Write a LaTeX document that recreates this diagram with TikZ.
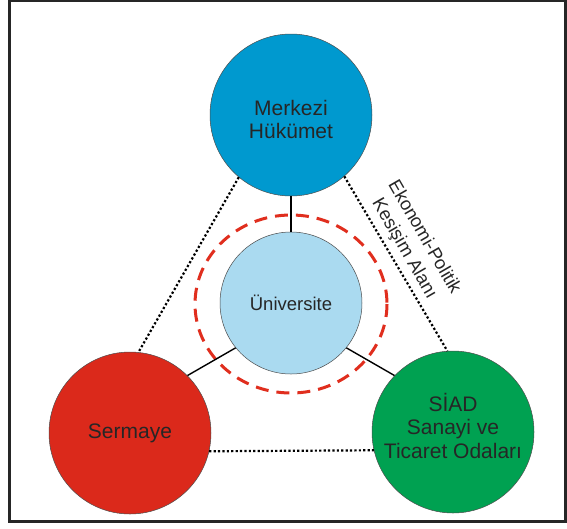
\documentclass[tikz,border=0pt]{standalone}
\usepackage{fontspec}
\setmainfont{Liberation Sans}
\definecolor{hukblue}{RGB}{0,153,207}
\definecolor{unilight}{RGB}{170,218,240}
\definecolor{serred}{RGB}{219,41,27}
\definecolor{siadgreen}{RGB}{0,161,81}
\definecolor{ringred}{RGB}{224,46,30}
\begin{document}
\begin{tikzpicture}[x=1pt,y=-1pt,
  actor/.style={draw=black!70, circle, line width=0.5pt, minimum size=162pt, inner sep=0pt,
    align=center, text=black!85, font=\fontsize{21}{23.5}\selectfont},
  tie/.style={line width=1.4pt},
  dotline/.style={line width=2.2pt, dash pattern=on 2.2pt off 2.2pt}]
  \useasboundingbox (0,0) rectangle (567,528);
  \draw[line width=2.5pt, black!85] (9.5,1) rectangle (565.5,521.5);
  \draw[ringred, line width=3pt, dash pattern=on 13pt off 8pt] (291,304) ellipse [x radius=96, y radius=89];
  \node[actor, fill=hukblue, text height=48pt] (huk) at (291,115) {Merkezi\\Hükümet};
  \node[actor, fill=unilight, minimum size=142pt, font=\fontsize{18.5}{21}\selectfont] (uni) at (291,303) {Üniversite};
  \node[actor, fill=serred] (ser) at (130,433) {Sermaye};
  \node[actor, fill=siadgreen, text depth=13pt] (siad) at (453,432) {SİAD\\Sanayi ve\\Ticaret Odaları};
  \node[rotate=-60, align=center, text=black!85, font=\fontsize{18.5}{23}\selectfont] (alan) at (414,243) {Ekonomi-Politik\\Kesişim Alanı};
  \draw[tie] (huk.south) -- (uni.north);
  \draw[tie] (uni.219) -- (ser.45);
  \draw[tie] (uni.321) -- (siad.136);
  \draw[dotline] (huk.230) -- (ser.84);
  \draw[dotline] (huk.311) -- (siad.94);
  \draw[dotline] (ser.347) -- (siad.193);
\end{tikzpicture}
\end{document}
